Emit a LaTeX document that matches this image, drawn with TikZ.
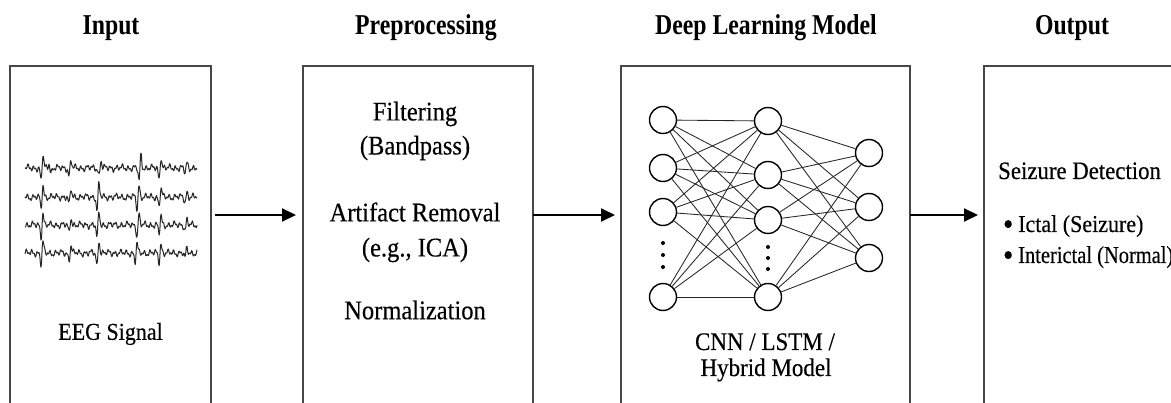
\documentclass[tikz,border=0pt]{standalone}
\usepackage{graphicx}
\usepackage{fontspec}
\setmainfont{Liberation Serif}[FakeBold=0.35]
\newfontfamily\titlefont{Liberation Serif}
\newcommand\tallbody[1]{\scalebox{1}[1.1]{#1}}
\newcommand\tallhead[1]{\scalebox{0.95}[1.15]{#1}}
\newcommand\bigbullet{\makebox[20pt][c]{\raisebox{-0.12em}{\scalebox{1.35}{\textbullet}}}}
\usetikzlibrary{arrows.meta}
\tikzset{
  panel/.style={draw=black!72, line width=1.5pt, inner sep=0pt, outer sep=0pt},
  heading/.style={font=\titlefont\bfseries\fontsize{25}{30}\selectfont, inner sep=0pt, anchor=base},
  body/.style={font=\fontsize{#1}{#1}\selectfont, inner sep=0pt},
  body/.default=22,
  flowarrow/.style={line width=2pt, -{Triangle[length=14pt,width=13pt]}},
  neuron/.style={circle, draw=black, line width=1.4pt, minimum size=27pt, inner sep=0pt, fill=white},
  synapse/.style={draw=black!85, line width=0.85pt},
  eegtrace/.style={draw=black!85, line width=1pt, line join=round},
  declare function={
    spk(\t,\c,\a)=\a*2.33*min(max((\t-\c)/1.4,-8),8)*exp(-(min(max((\t-\c)/1.4,-8),8))^2);
    base(\t,\p)=2*sin(61*mod(\t,5.901639)+\p)+1.5*sin(137*mod(\t,2.627737)+2*\p+40)+1*sin(23*\t+3*\p);
  }
}
\begin{document}
\begin{tikzpicture}[x=1pt,y=-1pt]
\useasboundingbox (0,0) rectangle (1171,403);
\fill[white] (0,0) rectangle (1171,403);

% headings
\node[heading] (h1) at (111,35) {\tallhead{Input}};
\node[heading] (h2) at (426,35) {\tallhead{Preprocessing}};
\node[heading] (h3) at (766,35) {\tallhead{Deep Learning Model}};
\node[heading] (h4) at (1072,35) {\tallhead{Output}};

% panels (extend below the page edge)
\node[panel, minimum width=201pt, minimum height=360pt] (inp) at (110.5,246) {};
\node[panel, minimum width=230pt, minimum height=360pt] (pre) at (418,246) {};
\node[panel, minimum width=289pt, minimum height=360pt] (dl) at (765.5,246) {};
\node[panel, minimum width=240pt, minimum height=360pt] (out) at (1104,246) {};

% arrows
\coordinate (ay) at (0,215);
\draw[flowarrow, shorten <=4pt, shorten >=7pt] (inp.east |- ay) -- (pre.west |- ay);
\draw[flowarrow, shorten >=6pt] (pre.east |- ay) -- (dl.west |- ay);
\draw[flowarrow, shorten >=6pt] (dl.east |- ay) -- (out.west |- ay);

% EEG traces
\draw[eegtrace] plot[domain=25:197, samples=260, smooth] (\x,{168+base(\x,0)+spk(\x,42,-13)+spk(\x,50,5)+spk(\x,70,-8)+spk(\x,100,-8)+spk(\x,140,-13)+spk(\x,160,-11)+spk(\x,186,-5)});
\draw[eegtrace] plot[domain=25:197, samples=260, smooth] (\x,{197+base(\x,35)+spk(\x,42,-12)+spk(\x,70,-8)+spk(\x,98,-13)+spk(\x,138,-12)+spk(\x,160,-9)+spk(\x,186,-5)});
\draw[eegtrace] plot[domain=25:197, samples=260, smooth] (\x,{225+base(\x,70)+spk(\x,42,-12)+spk(\x,70,-8)+spk(\x,98,-13)+spk(\x,138,-11)+spk(\x,160,-9)+spk(\x,186,-5)});
\draw[eegtrace] plot[domain=25:197, samples=260, smooth] (\x,{253+base(\x,110)+spk(\x,42,-11)+spk(\x,70,-8)+spk(\x,98,-13)+spk(\x,136,-9)+spk(\x,160,-9)+spk(\x,186,-5)});
\node[body=22] (eeg) at (110.5,334) {\tallbody{EEG Signal}};

% preprocessing text
\node[body=24.5] (p1) at (415,114) {\tallbody{Filtering}};
\node[body=24.5] (p2) at (415,148) {\tallbody{(Bandpass)}};
\node[body=24.5] (p3) at (415,212) {\tallbody{Artifact Removal}};
\node[body=24.5] (p4) at (415,250) {\tallbody{(e.g., ICA)}};
\node[body=24.5] (p5) at (415,310) {\tallbody{Normalization}};

% neural network
\foreach \n/\yy in {1/120,2/168,3/212,4/297} \coordinate (ca\n) at (663,\yy);
\foreach \n/\yy in {1/121,2/175,3/220,4/297} \coordinate (cb\n) at (768,\yy);
\foreach \n/\yy in {1/153,2/207,3/258} \coordinate (cc\n) at (869,\yy);
\foreach \n in {1,...,4} \node[neuron] (a\n) at (ca\n) {};
\foreach \n in {1,...,4} \node[neuron] (b\n) at (cb\n) {};
\foreach \n in {1,...,3} \node[neuron] (c\n) at (cc\n) {};
\foreach \i in {1,...,4}{
  \foreach \j in {1,...,4} \draw[synapse] (a\i) -- (b\j);
  \foreach \j in {1,...,3} \draw[synapse] (b\i) -- (c\j);
}
\foreach \yy in {243,255,267} \fill (663,\yy) circle[radius=2pt];
\foreach \yy in {247,258,269} \fill (768,\yy) circle[radius=2pt];
\node[body=23, anchor=base] (m1) at (765,350) {\tallbody{CNN / LSTM /}};
\node[body=23, anchor=base] (m2) at (766,376) {\tallbody{Hybrid Model}};

% output text
\node[body=22.8, anchor=base west] (o1) at (998,179) {\tallbody{Seizure Detection}};
\node[body=22, anchor=base west] (o2) at (998,232) {\tallbody{\bigbullet Ictal (Seizure)}};
\node[body=22, anchor=base west] (o3) at (998,263) {\tallbody{\bigbullet\scalebox{0.93}[1]{Interictal (Normal)}}};
\end{tikzpicture}
\end{document}
